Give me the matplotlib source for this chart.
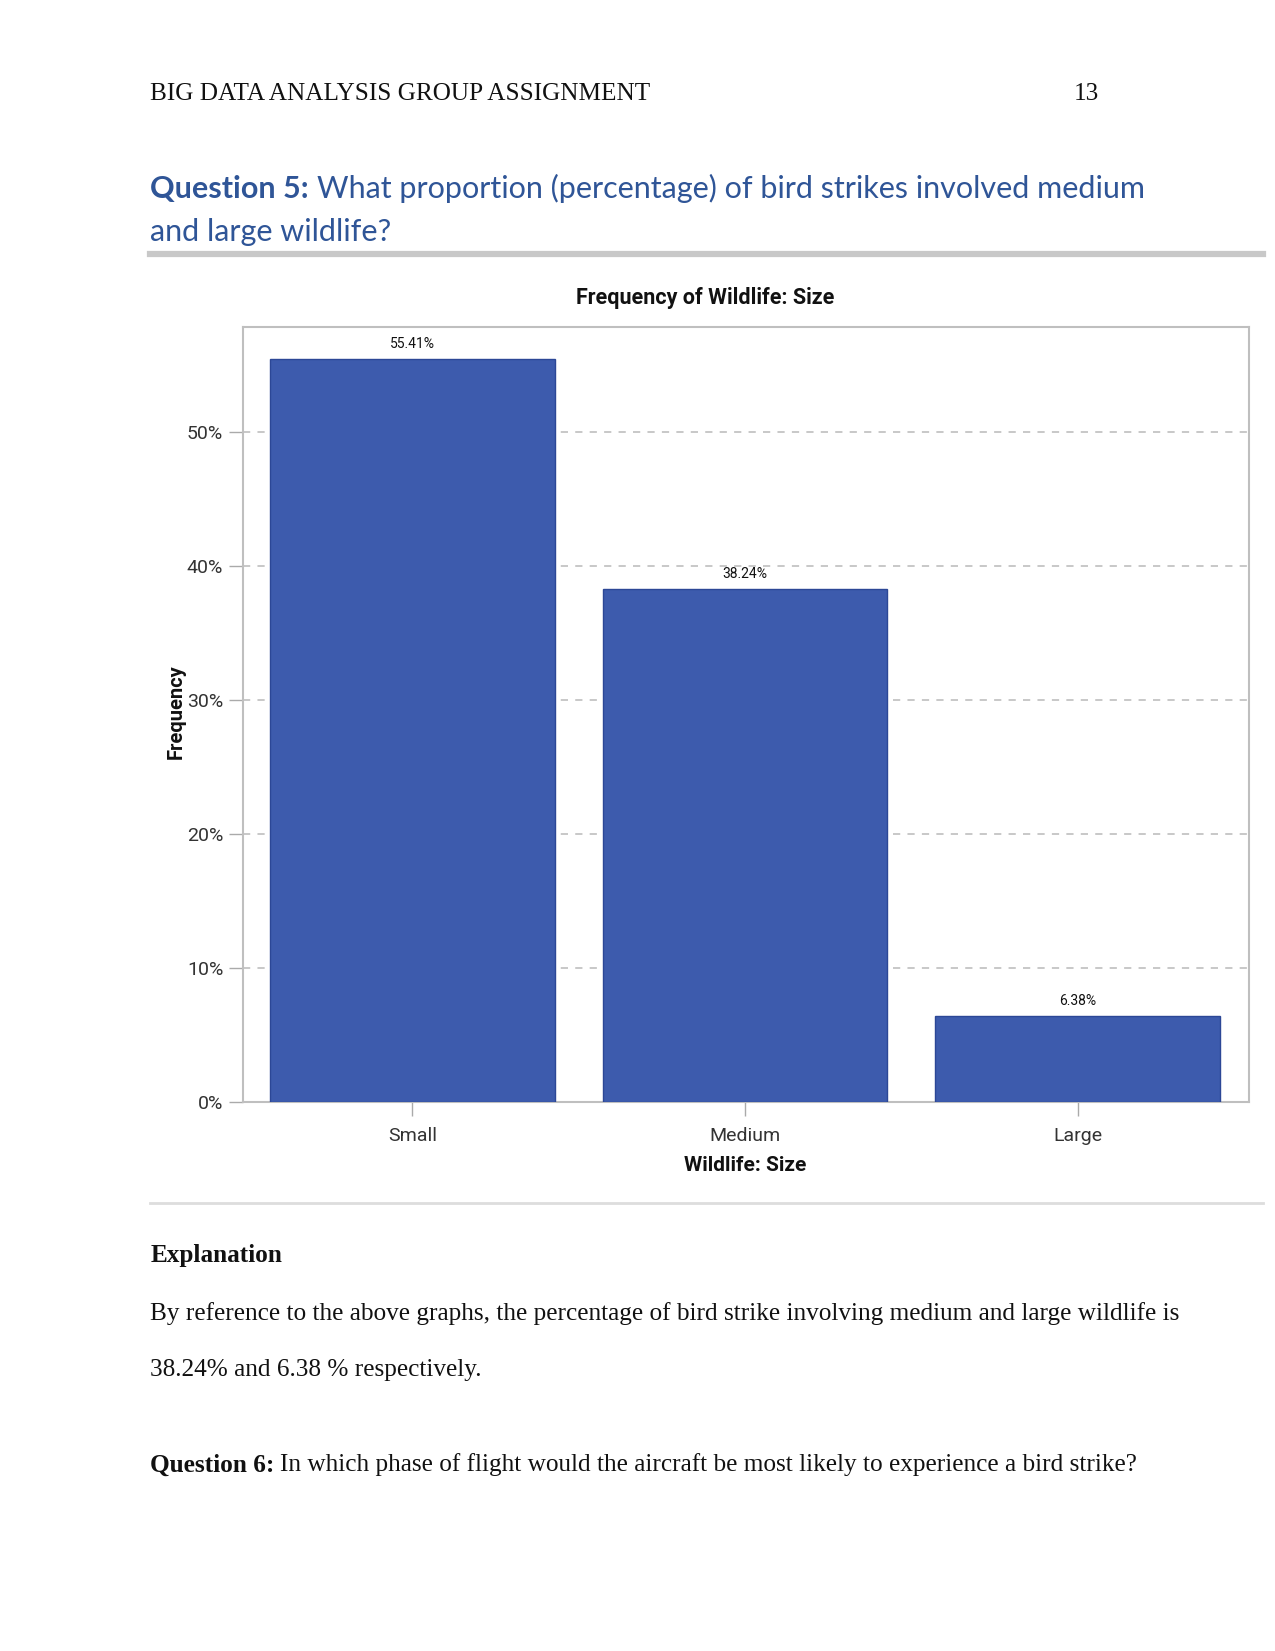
import matplotlib
matplotlib.use("Agg")
import matplotlib.pyplot as plt
from matplotlib.ticker import FuncFormatter

categories = ["Small", "Medium", "Large"]
values = [55.41, 38.24, 6.38]
value_labels = ["55.41%", "38.24%", "6.38%"]
yticks = [0, 10, 20, 30, 40, 50]

W, H = 1275, 1651
S = 1.0504  # measured layout was read at a 0.952 display scale
fig = plt.figure(figsize=(W / 100, H / 100), dpi=100)
fig.patch.set_facecolor("white")

def fx(x):
    return x * S / W

def fy(y):
    return 1 - y * S / H

serif = ["Liberation Serif", "DejaVu Serif"]
head = ["Lato", "DejaVu Sans"]
chartf = ["Roboto", "Liberation Sans", "DejaVu Sans"]
blue_head = "#2F5597"
TS = 18.2
D = 3.5  # vertical text offset

# page header
fig.text(fx(143), fy(86 + D), "BIG DATA ANALYSIS GROUP ASSIGNMENT", family=serif, fontsize=TS,
         va="center", ha="left", color="#111111")
fig.text(fx(1046), fy(86 + D), "13", family=serif, fontsize=TS, va="center", ha="right", color="#111111")

# question heading
t1 = fig.text(fx(143), fy(176 + D), "Question 5:", family=head, fontsize=22, fontweight="bold",
              va="center", ha="left", color=blue_head)
fig.canvas.draw()
bb = t1.get_window_extent()
fig.text(bb.x1 / W + 8 / W, fy(176 + D), "What proportion (percentage) of bird strikes involved medium",
         family=head, fontsize=22, va="center", ha="left", color=blue_head)
fig.text(fx(143), fy(217 + D), "and large wildlife?", family=head, fontsize=22, va="center", ha="left",
         color=blue_head)

# rules
fig.add_artist(plt.Line2D([fx(143), fx(1202)], [fy(242), fy(242)], color="#C8C8C8", lw=4.5))
fig.add_artist(plt.Line2D([fx(143), fx(1202)], [fy(1145), fy(1145)], color="#DDDDDD", lw=2))

# chart
ax = fig.add_axes([fx(231), fy(1049), fx(1189) - fx(231), fy(311) - fy(1049)])
x = list(range(len(categories)))
ax.bar(x, values, width=0.856, color="#3D5BAD", edgecolor="#2C4796", linewidth=1, zorder=3)
for xi, v, lab in zip(x, values, value_labels):
    ax.text(xi, v + 0.6, lab, ha="center", va="bottom", family=chartf, fontsize=10, color="#111111")
ax.set_xlim(-0.51, 2.515)
ax.set_ylim(0, 57.84)
ax.set_yticks(yticks)
ax.yaxis.set_major_formatter(FuncFormatter(lambda v, p: f"{int(v)}%"))
ax.set_xticks(x)
ax.set_xticklabels(categories)
for lab in ax.get_xticklabels() + ax.get_yticklabels():
    lab.set_family(chartf)
    lab.set_fontsize(14)
    lab.set_color("#333333")
ax.tick_params(axis="both", direction="out", length=10, width=1, color="#AAAAAA", pad=4)
ax.tick_params(axis="x", pad=8)
for yv in yticks[1:]:
    ax.axhline(yv, color="#C4C4C4", lw=1.3, ls=(0, (4, 4)), zorder=1)
for s in ax.spines.values():
    s.set_color("#BFBFBF")
    s.set_linewidth(1.5)
ax.set_ylabel("Frequency", family=chartf, fontsize=14.5, fontweight="bold", color="#111111")
ax.yaxis.set_label_coords(-0.0658, 0.503)
ax.yaxis.label.set_va("center")
ax.set_xlabel("Wildlife: Size", family=chartf, fontsize=15, fontweight="bold", color="#111111")
ax.xaxis.set_label_coords(0.499, -0.0827)
ax.xaxis.label.set_va("center")
fig.text(fx(671), fy(282 + 2), "Frequency of Wildlife: Size", family=chartf, fontsize=15.5,
         fontweight="bold", color="#111111", ha="center", va="center")

# explanation text
fig.text(fx(143), fy(1192 + D), "Explanation", family=serif, fontsize=TS, fontweight="bold",
         va="center", ha="left", color="#111111")
fig.text(fx(143), fy(1247 + D),
         "By reference to the above graphs, the percentage of bird strike involving medium and large wildlife is",
         family=serif, fontsize=TS, va="center", ha="left", color="#111111")
fig.text(fx(143), fy(1301 + D), "38.24% and 6.38 % respectively.", family=serif, fontsize=TS,
         va="center", ha="left", color="#111111")
q6 = fig.text(fx(143), fy(1391 + D), "Question 6:", family=serif, fontsize=TS, fontweight="bold",
              va="center", ha="left", color="#111111")
fig.canvas.draw()
bb = q6.get_window_extent()
fig.text(bb.x1 / W + 5 / W, fy(1391 + D),
         "In which phase of flight would the aircraft be most likely to experience a bird strike?",
         family=serif, fontsize=TS, va="center", ha="left", color="#111111")

fig.savefig("out.png", dpi=100, facecolor="white")
